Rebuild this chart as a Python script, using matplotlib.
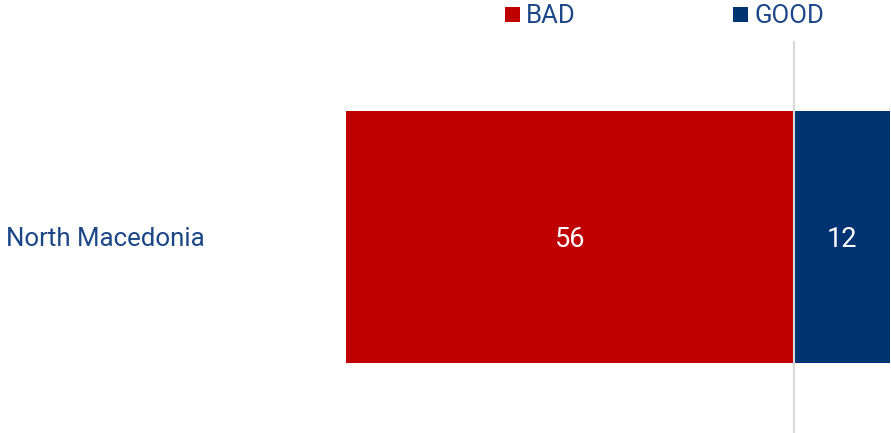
import matplotlib.pyplot as plt
from matplotlib.patches import Rectangle

# data
countries = ["North Macedonia"]
bad = [56]
good = [12]

RED = "#c00000"
BLUE = "#003371"
TEXT = "#1c4787"

plt.rcParams['font.family'] = ['Roboto', 'DejaVu Sans']

fig = plt.figure(figsize=(8.91, 4.33), dpi=100)
ax = fig.add_axes([0, 0, 1, 1])

# bars: bad to the left of zero, good to the right
ax.barh(countries, [-v for v in bad], height=1.0, color=RED, left=0)
ax.barh(countries, good, height=1.0, color=BLUE, left=0)

# one bar row is 252 px tall, so baseline offsets are in that unit
for i, (b, g) in enumerate(zip(bad, good)):
    ax.text(-b / 2, i + 10 / 252, str(b), color="white", ha="center", va="baseline", fontsize=19.5)
    ax.text(g / 2, i + 10 / 252, str(g), color="white", ha="center", va="baseline", fontsize=19.5)
    ax.text(-99.25 + 6 / 8, i + 9 / 252, countries[i], color=TEXT, ha="left", va="baseline", fontsize=18.6)

# zero line
ax.axvline(0, ymin=0, ymax=(433 - 42) / 433, color="#d9d9d9", lw=1.5, zorder=3)

ax.set_xlim(-99.25, 12.125)
ax.set_ylim(0.778, -0.940)
ax.axis("off")

# legend
def legend_item(x_px, label, color):
    fig.add_artist(Rectangle((x_px / 891, 1 - 22 / 433), 15 / 891, 15 / 433,
                             transform=fig.transFigure, color=color, lw=0))
    fig.text((x_px + 21) / 891, 1 - 22.7 / 433, label, color=TEXT,
             ha="left", va="baseline", fontsize=18.5)

legend_item(505, "BAD", RED)
legend_item(733, "GOOD", BLUE)

fig.savefig("out.png", dpi=100)
